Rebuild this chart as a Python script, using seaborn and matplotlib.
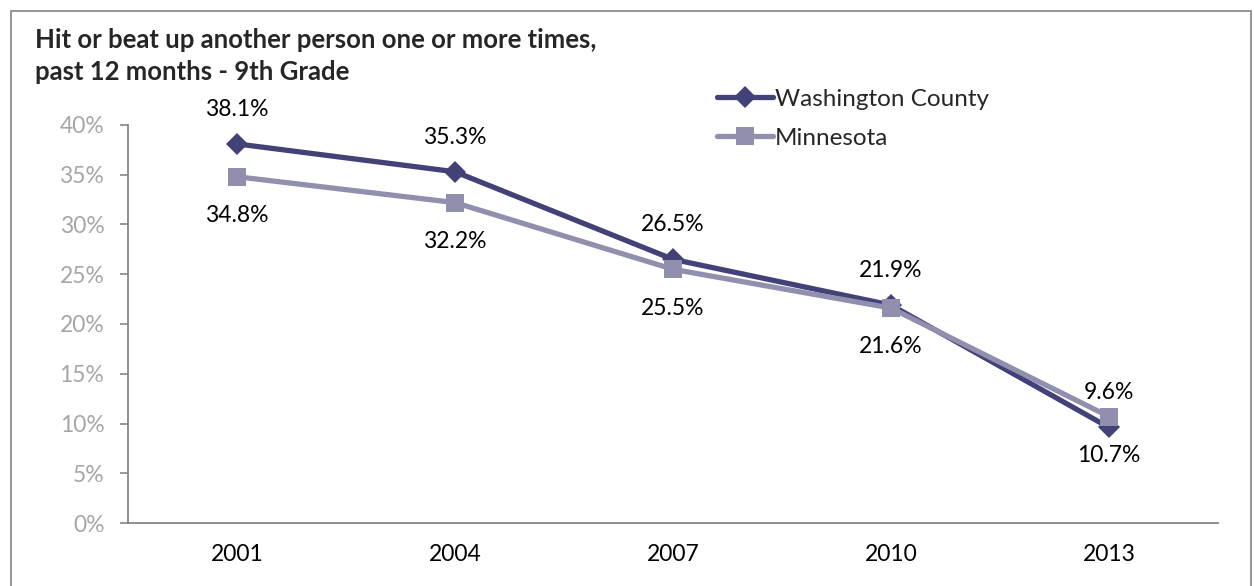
import matplotlib
matplotlib.use("Agg")
import matplotlib.pyplot as plt
from matplotlib.patches import Rectangle
from matplotlib.lines import Line2D
import seaborn as sns
import pandas as pd

years = ["2001", "2004", "2007", "2010", "2013"]
washington = [38.1, 35.3, 26.5, 21.9, 9.6]
minnesota = [34.8, 32.2, 25.5, 21.6, 10.7]
series_names = ["Washington County", "Minnesota"]
y_ticks = [0, 5, 10, 15, 20, 25, 30, 35, 40]

df = pd.DataFrame({
    "year": years * 2,
    "value": washington + minnesota,
    "series": [series_names[0]] * len(years) + [series_names[1]] * len(years),
})

sns.set_theme(style="white")
plt.rcParams["font.family"] = ["Lato", "DejaVu Sans"]

navy = "#424278"
lilac = "#9090AE"
palette = {series_names[0]: navy, series_names[1]: lilac}
markers = {series_names[0]: "D", series_names[1]: "s"}

fig = plt.figure(figsize=(12.54, 5.86), dpi=100)
W, H = 1254, 586
ax = fig.add_axes([128 / W, 1 - 523 / H, (1218 - 128) / W, (523 - 125) / H])

sns.lineplot(data=df, x="year", y="value", hue="series", style="series",
             palette=palette, markers=markers, dashes=False, linewidth=3.8,
             markersize=12, markeredgewidth=0, ax=ax, legend=False, sort=False)

# squares drawn a little larger than the diamonds
for line in ax.get_lines():
    if line.get_marker() == "s":
        line.set_markersize(13)
    else:
        line.set_markersize(11)

ax.set_xlim(-0.5, len(years) - 0.5)
ax.set_ylim(0, 40)
ax.set_yticks(y_ticks)
ax.set_yticklabels([f"{t}%" for t in y_ticks], color="#A6A6A6", fontsize=16.5)
ax.set_xticks(range(len(years)))
ax.set_xticklabels(years, fontsize=16.5, color="black")
ax.set_xlabel("")
ax.set_ylabel("")

# category boundary ticks on x, outward ticks on y
ax.set_xticks([i - 0.5 for i in range(len(years) + 1)], minor=True)
ax.tick_params(axis="x", which="major", length=0, pad=15)
ax.tick_params(axis="x", which="minor", length=6, width=1.2, color="#868686", direction="out")
ax.tick_params(axis="y", which="major", length=6, width=1.2, color="#868686", direction="out", left=True, pad=11)

for side in ["top", "right"]:
    ax.spines[side].set_visible(False)
for side in ["left", "bottom"]:
    ax.spines[side].set_color("#868686")
    ax.spines[side].set_linewidth(1.3)

# value labels: county above, state below
for i, (w, m) in enumerate(zip(washington, minnesota)):
    ax.annotate(f"{w}%", (i, w), xytext=(0, 25), textcoords="offset points",
                ha="center", va="center", fontsize=16.5, color="black")
    ax.annotate(f"{m}%", (i, m), xytext=(0, -28), textcoords="offset points",
                ha="center", va="center", fontsize=16.5, color="black")

# legend
handles = [
    Line2D([0], [0], color=navy, lw=3.8, marker="D", markersize=11, markeredgewidth=0),
    Line2D([0], [0], color=lilac, lw=3.8, marker="s", markersize=13, markeredgewidth=0),
]
fig.legend(handles, series_names, loc="upper left", bbox_to_anchor=(707 / W, 1 - 79 / H),
           frameon=False, fontsize=17.5, handlelength=2.3, handletextpad=0.1,
           labelspacing=0.75, borderaxespad=0)

# title
fig.text(35 / W, 1 - 40 / H, "Hit or beat up another person one or more times,",
         fontsize=18.5, fontweight="bold", ha="left", va="center")
fig.text(35 / W, 1 - 72 / H, "past 12 months - 9th Grade",
         fontsize=18.5, fontweight="bold", ha="left", va="center")

# outer frame
fig.patches.append(Rectangle((11 / W, -0.02), (1251 - 11) / W, 1 - 11 / H + 0.02,
                             transform=fig.transFigure, fill=False,
                             edgecolor="#8C8C8C", linewidth=1.3))

fig.savefig("out.png", dpi=100)
